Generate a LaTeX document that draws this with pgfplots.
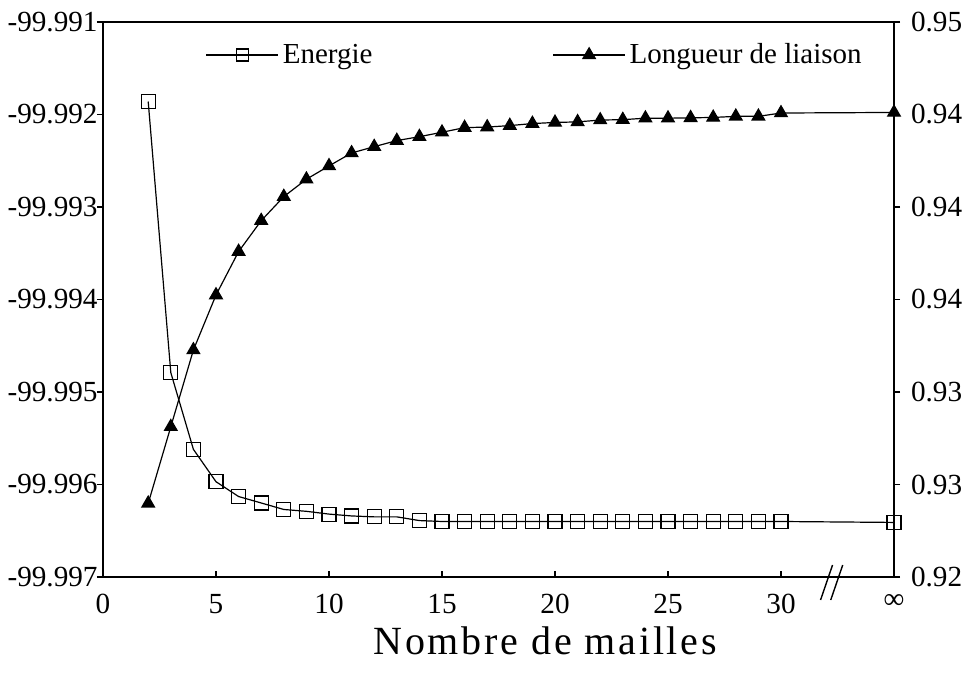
\documentclass[border=0pt]{standalone}
\usepackage{fontspec}
\setmainfont{Liberation Serif}
\usepackage{pgfplots}
\usepackage{pgfplotstable}
\pgfplotsset{compat=1.18}

\pgfplotstableread{
n E
2 -99.99186
3 -99.99479
4 -99.99562
5 -99.99597
6 -99.99613
7 -99.99620
8 -99.99627
9 -99.99629
10 -99.99632
11 -99.99634
12 -99.99635
13 -99.99635
14 -99.99639
15 -99.99640
16 -99.99640
17 -99.99640
18 -99.99640
19 -99.99640
20 -99.99640
21 -99.99640
22 -99.99640
23 -99.99640
24 -99.99640
25 -99.99640
26 -99.99640
27 -99.99640
28 -99.99640
29 -99.99640
30 -99.99640
35 -99.99641
}\energy

\pgfplotstableread{
n L
2 0.92398
3 0.92812
4 0.93227
5 0.93524
6 0.93759
7 0.93926
8 0.94056
9 0.94150
10 0.94222
11 0.94292
12 0.94326
13 0.94359
14 0.94380
15 0.94404
16 0.94429
17 0.94432
18 0.94440
19 0.94451
20 0.94457
21 0.94460
22 0.94470
23 0.94472
24 0.94480
25 0.94480
26 0.94482
27 0.94484
28 0.94490
29 0.94490
30 0.94508
35 0.94511
}\longueur

\begin{document}
\begin{tikzpicture}
\useasboundingbox (-51.5pt,-48pt) rectangle (432pt,288.5pt);
\pgfplotsset{
  every axis/.append style={
    width=395.5pt, height=277.5pt, scale only axis,
    at={(0pt,0pt)}, anchor=south west,
    xmin=0, xmax=35,
    axis line style={line width=0.7pt},
    every tick/.style={black, line width=0.7pt},
    major tick length=3pt,
    tick align=outside,
    every tick label/.append style={font=\fontsize{14.6}{18}\selectfont},
  },
  estyle/.style={black, line width=0.6pt, mark=square, mark size=3.5pt, mark options={fill=white, line width=0.6pt}},
  lstyle/.style={black, line width=0.6pt, mark=triangle*, mark size=3.6pt, mark options={fill=black}},
}
\begin{axis}[
  clip=false,
  ymin=-99.997, ymax=-99.991,
  xtick={0,5,10,15,20,25,30,35},
  xticklabels={0,5,10,15,20,25,30,∞},
  xtick pos=lower,
  x tick style={yshift=3pt},
  xticklabel style={yshift=-2pt},
  ytick={-99.997,-99.996,-99.995,-99.994,-99.993,-99.992,-99.991},
  yticklabels={-99.997,-99.996,-99.995,-99.994,-99.993,-99.992,-99.991},
  yticklabel style={inner xsep=0pt, xshift=0.5pt},
  ytick pos=left,
  xlabel={\addfontfeature{LetterSpace=7}Nombre de mailles},
  xlabel style={font=\fontsize{20}{24}\selectfont, at={(axis description cs:0.559,0)}, anchor=center, yshift=-32pt},
]
\addplot[estyle] table[x=n, y=E] {\energy};
\draw[black, line width=0.7pt] (axis cs:31.75,-99.997) ++(0pt,-11.5pt) -- ++(6pt,17.5pt);
\draw[black, line width=0.7pt] (axis cs:32.2,-99.997) ++(0pt,-11.5pt) -- ++(6pt,17.5pt);
\end{axis}
\begin{axis}[
  ymin=0.92, ymax=0.95,
  axis x line=none,
  axis y line*=right,
  ytick={0.92,0.925,0.93,0.935,0.94,0.945,0.95},
  yticklabels={0.92,0.93,0.93,0.94,0.94,0.94,0.95},
  yticklabel style={xshift=2pt},
  legend columns=2,
  legend style={draw=none, fill=none, at={(0.547,0.9405)}, anchor=center,
    font=\fontsize{14.5}{18}\selectfont, /tikz/every even column/.append style={column sep=88pt}},
  legend image code/.code={\draw[mark repeat=2, mark phase=2, #1] plot coordinates {(0pt,0pt) (18pt,0pt) (36pt,0pt)};},
]
\addlegendimage{estyle, mark size=3pt}
\addlegendentry{Energie}
\addplot[lstyle] table[x=n, y=L] {\longueur};
\addlegendentry{Longueur de liaison}
\end{axis}
\end{tikzpicture}
\end{document}
